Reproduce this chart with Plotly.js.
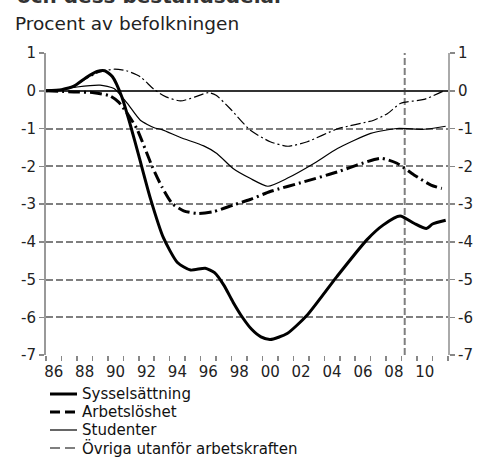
<!DOCTYPE html>
<html>
<head>
<meta charset="utf-8">
<script src="https://cdn.plot.ly/plotly-3.0.1.min.js"></script>
<style>html,body{margin:0;padding:0;background:#fff;}#chart{width:477px;height:457px;}</style>
</head>
<body>
<div id="chart"></div>
<script>
// Series names
var seriesNames = ["Sysselsättning", "Arbetslöshet", "Studenter", "Övriga utanför arbetskraften"];

// Sysselsättning
var sysX = [1986.0, 1987.0, 1987.8, 1988.6, 1989.3, 1989.8, 1990.3, 1990.9, 1991.45, 1992.0, 1992.75, 1993.6, 1994.5, 1995.35, 1996.3, 1996.9, 1997.5, 1998.1, 1998.7, 1999.3, 1999.9, 2000.5, 2001.6, 2002.9, 2004.8, 2006.75, 2007.8, 2008.9, 2009.8, 2010.6, 2011.0, 2011.85];
var sysY = [0.0, 0.03, 0.12, 0.35, 0.51, 0.53, 0.37, -0.16, -0.9, -1.72, -2.85, -3.9, -4.55, -4.75, -4.70, -4.82, -5.15, -5.6, -6.0, -6.32, -6.52, -6.59, -6.43, -5.94, -4.93, -3.95, -3.56, -3.32, -3.51, -3.65, -3.53, -3.43];

// Arbetslöshet
var arbX = [1986.0, 1987.8, 1989.1, 1990.15, 1990.7, 1991.25, 1991.87, 1992.86, 1993.5, 1994.15, 1994.9, 1995.8, 1996.85, 1998.1, 1999.2, 2000.5, 2002.7, 2004.85, 2006.1, 2007.65, 2008.7, 2009.8, 2010.9, 2011.6];
var arbY = [0.0, -0.03, -0.05, -0.14, -0.3, -0.6, -1.0, -2.0, -2.55, -2.98, -3.18, -3.25, -3.2, -3.03, -2.88, -2.67, -2.41, -2.15, -1.97, -1.79, -1.92, -2.23, -2.5, -2.59];

// Studenter
var stuX = [1986.0, 1987.0, 1988.0, 1989.5, 1990.4, 1991.25, 1992.1, 1993.0, 1993.5, 1994.7, 1996.2, 1997.05, 1998.1, 1999.2, 2000.35, 2001.6, 2003.35, 2004.85, 2007.0, 2008.7, 2010.45, 2011.85];
var stuY = [0.0, 0.03, 0.1, 0.15, 0.06, -0.33, -0.78, -0.98, -1.03, -1.24, -1.46, -1.66, -2.06, -2.32, -2.53, -2.32, -1.92, -1.53, -1.13, -1.0, -1.02, -0.94];

// Övriga utanför arbetskraften
var ovrX = [1986.0, 1987.0, 1987.8, 1988.65, 1989.5, 1990.4, 1991.2, 1992.1, 1993.0, 1993.8, 1994.7, 1995.6, 1996.5, 1997.0, 1997.9, 1999.2, 2000.5, 2001.65, 2002.9, 2004.85, 2007.2, 2008.1, 2008.95, 2010.45, 2011.85];
var ovrY = [0.0, 0.03, 0.12, 0.33, 0.5, 0.57, 0.53, 0.37, 0.03, -0.17, -0.27, -0.17, -0.05, -0.12, -0.47, -1.04, -1.35, -1.47, -1.35, -1.01, -0.78, -0.6, -0.33, -0.23, 0.02];

// Tick labels
var yTickVals = [1, 0, -1, -2, -3, -4, -5, -6, -7];
var yTickText = ["1", "0", "-1", "-2", "-3", "-4", "-5", "-6", "-7"];
var xLabelYears = [1986, 1988, 1990, 1992, 1994, 1996, 1998, 2000, 2002, 2004, 2006, 2008, 2010];
var xLabelText = ["86", "88", "90", "92", "94", "96", "98", "00", "02", "04", "06", "08", "10"];
var markerLineX = 2009.2;

var FONT = "DejaVu Sans, Verdana, sans-serif";
var GRID = "#7f7f7f";
var GDASH = "7px,3px";

// plot-area geometry (pixels) used to place the hand-made legend
var L = 46, R = 29, T = 53, B = 102, W = 477, H = 457;
var PW = W - L - R, PH = H - T - B;
function px(x) { return (x - L) / PW; }
function py(y) { return (H - B - y) / PH; }

var styles = [
  {color: "#000", width: 3, shape: "spline", smoothing: 0.6},
  {color: "#000", width: 3, dash: "12px,4px,2px,4px", shape: "spline", smoothing: 0.6},
  {color: "#000", width: 1.2, shape: "spline", smoothing: 0.6},
  {color: "#000", width: 1.2, dash: "10px,3px,2px,3px", shape: "spline", smoothing: 0.6}
];
var legendDash = ["solid", "10px,5px", "solid", "10px,5px"];

var traces = [
  {x: sysX, y: sysY, name: seriesNames[0], mode: "lines", line: styles[0]},
  {x: arbX, y: arbY, name: seriesNames[1], mode: "lines", line: styles[1]},
  {x: stuX, y: stuY, name: seriesNames[2], mode: "lines", line: styles[2]},
  {x: ovrX, y: ovrY, name: seriesNames[3], mode: "lines", yaxis: "y2", line: styles[3]}
];

var xMid = xLabelYears.map(function (v) { return v + 0.5; });

var shapes = [
  {type: "line", xref: "x", yref: "y", x0: markerLineX, x1: markerLineX, y0: -7, y1: 1, layer: "below", line: {color: GRID, width: 2, dash: GDASH}}
];
var annotations = [
  {text: "<b>och dess beståndsdelar</b>", xref: "paper", yref: "paper", x: px(15), y: py(9.5), xanchor: "left", yanchor: "bottom", showarrow: false, font: {family: FONT, size: 20, color: "#333"}}
];
var legendRows = [394, 412, 430, 448];
seriesNames.forEach(function (name, i) {
  shapes.push({type: "line", xref: "paper", yref: "paper", x0: px(50), x1: px(77), y0: py(legendRows[i]), y1: py(legendRows[i]),
    line: {color: "#000", width: styles[i].width === 3 ? 3 : 1.2, dash: legendDash[i]}});
  annotations.push({text: name, xref: "paper", yref: "paper", x: px(80), y: py(legendRows[i]), xanchor: "left", yanchor: "middle",
    showarrow: false, font: {family: FONT, size: 15, color: "#111"}});
});

var layout = {
  width: W, height: H,
  margin: {l: L, r: R, t: T, b: B, autoexpand: false},
  paper_bgcolor: "#fff", plot_bgcolor: "#fff",
  font: {family: FONT, size: 15, color: "#222"},
  showlegend: false,
  title: {text: "Procent av befolkningen", x: 15 / W, xanchor: "left", xref: "container", y: 1 - 24 / H, yanchor: "middle", yref: "container", font: {family: FONT, size: 18.5, color: "#222"}},
  xaxis: {
    range: [1986, 2012], showgrid: false, zeroline: false, showline: false,
    tickmode: "array", tickvals: xMid, ticktext: xLabelText, ticks: "",
    ticklabelstandoff: 6,
    tickfont: {family: FONT, size: 15, color: "#222"},
    minor: {tickmode: "linear", tick0: 1986, dtick: 1, ticks: "outside", ticklen: 5, tickwidth: 1.5, tickcolor: "#888", showgrid: false},
    fixedrange: true
  },
  yaxis: {
    range: [-7, 1], tickmode: "array", tickvals: yTickVals, ticktext: yTickText,
    showgrid: true, gridcolor: GRID, gridwidth: 2, griddash: GDASH,
    zeroline: true, zerolinecolor: "#333", zerolinewidth: 2,
    showline: true, linecolor: "#999", linewidth: 2,
    ticks: "outside", ticklen: 5, tickwidth: 1.5, tickcolor: "#888",
    tickfont: {family: FONT, size: 15, color: "#222"}, fixedrange: true
  },
  yaxis2: {
    range: [-7, 1], overlaying: "y", side: "right", tickmode: "array", tickvals: yTickVals, ticktext: yTickText,
    showgrid: false, zeroline: false,
    showline: true, linecolor: "#aaa", linewidth: 2,
    ticks: "outside", ticklen: 5, tickwidth: 1.5, tickcolor: "#888",
    tickfont: {family: FONT, size: 15, color: "#222"}, fixedrange: true
  },
  shapes: shapes,
  annotations: annotations
};

Plotly.newPlot("chart", traces, layout, {displayModeBar: false, staticPlot: true});
</script>
</body>
</html>
